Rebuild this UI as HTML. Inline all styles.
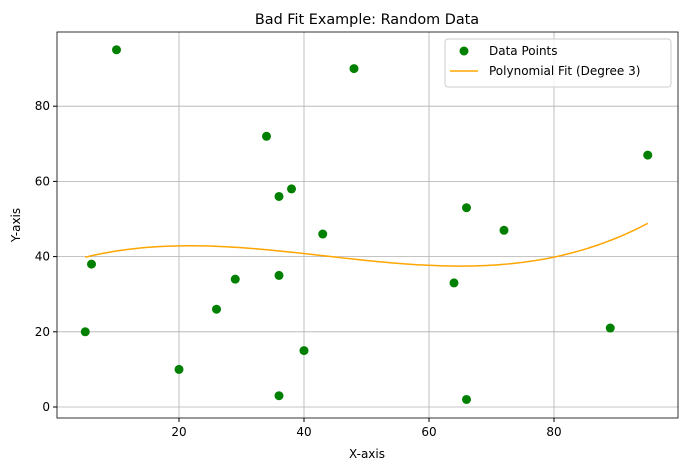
<!DOCTYPE html>
<html><head><meta charset="utf-8"><style>
body{margin:0;background:#fff;font-family:"Liberation Sans","DejaVu Sans",sans-serif}
svg text{font-family:"DejaVu Sans","Liberation Sans",sans-serif}
</style></head><body>
<svg id="c" width="686" height="470" xmlns="http://www.w3.org/2000/svg"></svg>
<script>
const xs=[5,6,10,20,26,29,34,36,36,36,38,40,43,48,64,66,66,72,89,95];
const ys=[20,38,95,10,26,34,72,56,35,3,58,15,46,90,33,53,2,47,21,67];
const xTicks=[20,40,60,80];
const yTicks=[0,20,40,60,80];
const L=57,R=678,T=32,B=418;
const X=v=>54+v*6.25, Y=v=>407-v*3.76;
const svg=document.getElementById('c');
const NS='http://www.w3.org/2000/svg';
function mk(t,a,p){const e=document.createElementNS(NS,t);for(const k in a)e.setAttribute(k,a[k]);(p||svg).appendChild(e);return e;}
// grid & ticks
xTicks.forEach(v=>{
 const g=mk('line',{x1:X(v),x2:X(v),y1:T,y2:B,stroke:'#b0b0b0','stroke-width':0.8});
 
 
 mk('line',{x1:X(v),x2:X(v),y1:B,y2:B+4,stroke:'#000'});
 const t=mk('text',{x:X(v),y:B+18,'text-anchor':'middle','font-size':12});t.textContent=v;
 
 
});
yTicks.forEach(v=>{
 const g=mk('line',{x1:L,x2:R,y1:Y(v),y2:Y(v),stroke:'#b0b0b0','stroke-width':0.8});
 
 
 mk('line',{x1:L-4,x2:L,y1:Y(v),y2:Y(v),stroke:'#000'});
 const t=mk('text',{x:L-7,y:Y(v)+4,'text-anchor':'end','font-size':12});t.textContent=v;
 
 
});
// cubic least squares fit
function fit(){const n=4,A=[],b=[];for(let i=0;i<n;i++){A.push(new Array(n).fill(0));b.push(0);}
 xs.forEach((x,k)=>{for(let i=0;i<n;i++){b[i]+=ys[k]*Math.pow(x,i);for(let j=0;j<n;j++)A[i][j]+=Math.pow(x,i+j);}});
 for(let i=0;i<n;i++){let p=i;for(let r=i+1;r<n;r++)if(Math.abs(A[r][i])>Math.abs(A[p][i]))p=r;[A[i],A[p]]=[A[p],A[i]];[b[i],b[p]]=[b[p],b[i]];
  for(let r=0;r<n;r++)if(r!==i){const f=A[r][i]/A[i][i];for(let c=i;c<n;c++)A[r][c]-=f*A[i][c];b[r]-=f*b[i];}}
 return b.map((v,i)=>v/A[i][i]);}
const co=fit();
let d='';const x0=Math.min(...xs),x1=Math.max(...xs);
for(let i=0;i<=100;i++){const x=x0+(x1-x0)*i/100;const y=co[0]+co[1]*x+co[2]*x*x+co[3]*x*x*x;d+=(i?'L':'M')+X(x).toFixed(2)+','+Y(y).toFixed(2);}
xs.forEach((x,i)=>{const c=mk('circle',{cx:X(x),cy:Y(ys[i]),r:4.5,fill:'#008000'});
 
 });
const ln=mk('path',{d:d,fill:'none',stroke:'#ffa500','stroke-width':1.5});


const fr=mk('rect',{x:L,y:T,width:R-L,height:B-T,fill:'none',stroke:'#000','stroke-width':0.8});


function txt(s,a,name){const t=mk('text',a);t.textContent=s;return t;}
txt('Bad Fit Example: Random Data',{x:367,y:24,'text-anchor':'middle','font-size':14.4},'chart-title');
txt('X-axis',{x:367,y:458,'text-anchor':'middle','font-size':12},'x-axis-title');
txt('Y-axis',{x:0,y:0,'text-anchor':'middle','font-size':12,transform:'translate(20,225) rotate(-90)'},'y-axis-title');
// legend
const lg=mk('g',{});
mk('rect',{x:445,y:39,width:226,height:48,rx:3,fill:'#fff','fill-opacity':0.8,stroke:'#ccc'},lg);
mk('circle',{cx:464,cy:51,r:4.5,fill:'#008000'},lg);
const t1=mk('text',{x:489,y:55,'font-size':12},lg);t1.textContent='Data Points';

mk('line',{x1:450,x2:478,y1:71,y2:71,stroke:'#ffa500','stroke-width':1.5},lg);
const t2=mk('text',{x:489,y:75,'font-size':12},lg);t2.textContent='Polynomial Fit (Degree 3)';

</script>
</body></html>
